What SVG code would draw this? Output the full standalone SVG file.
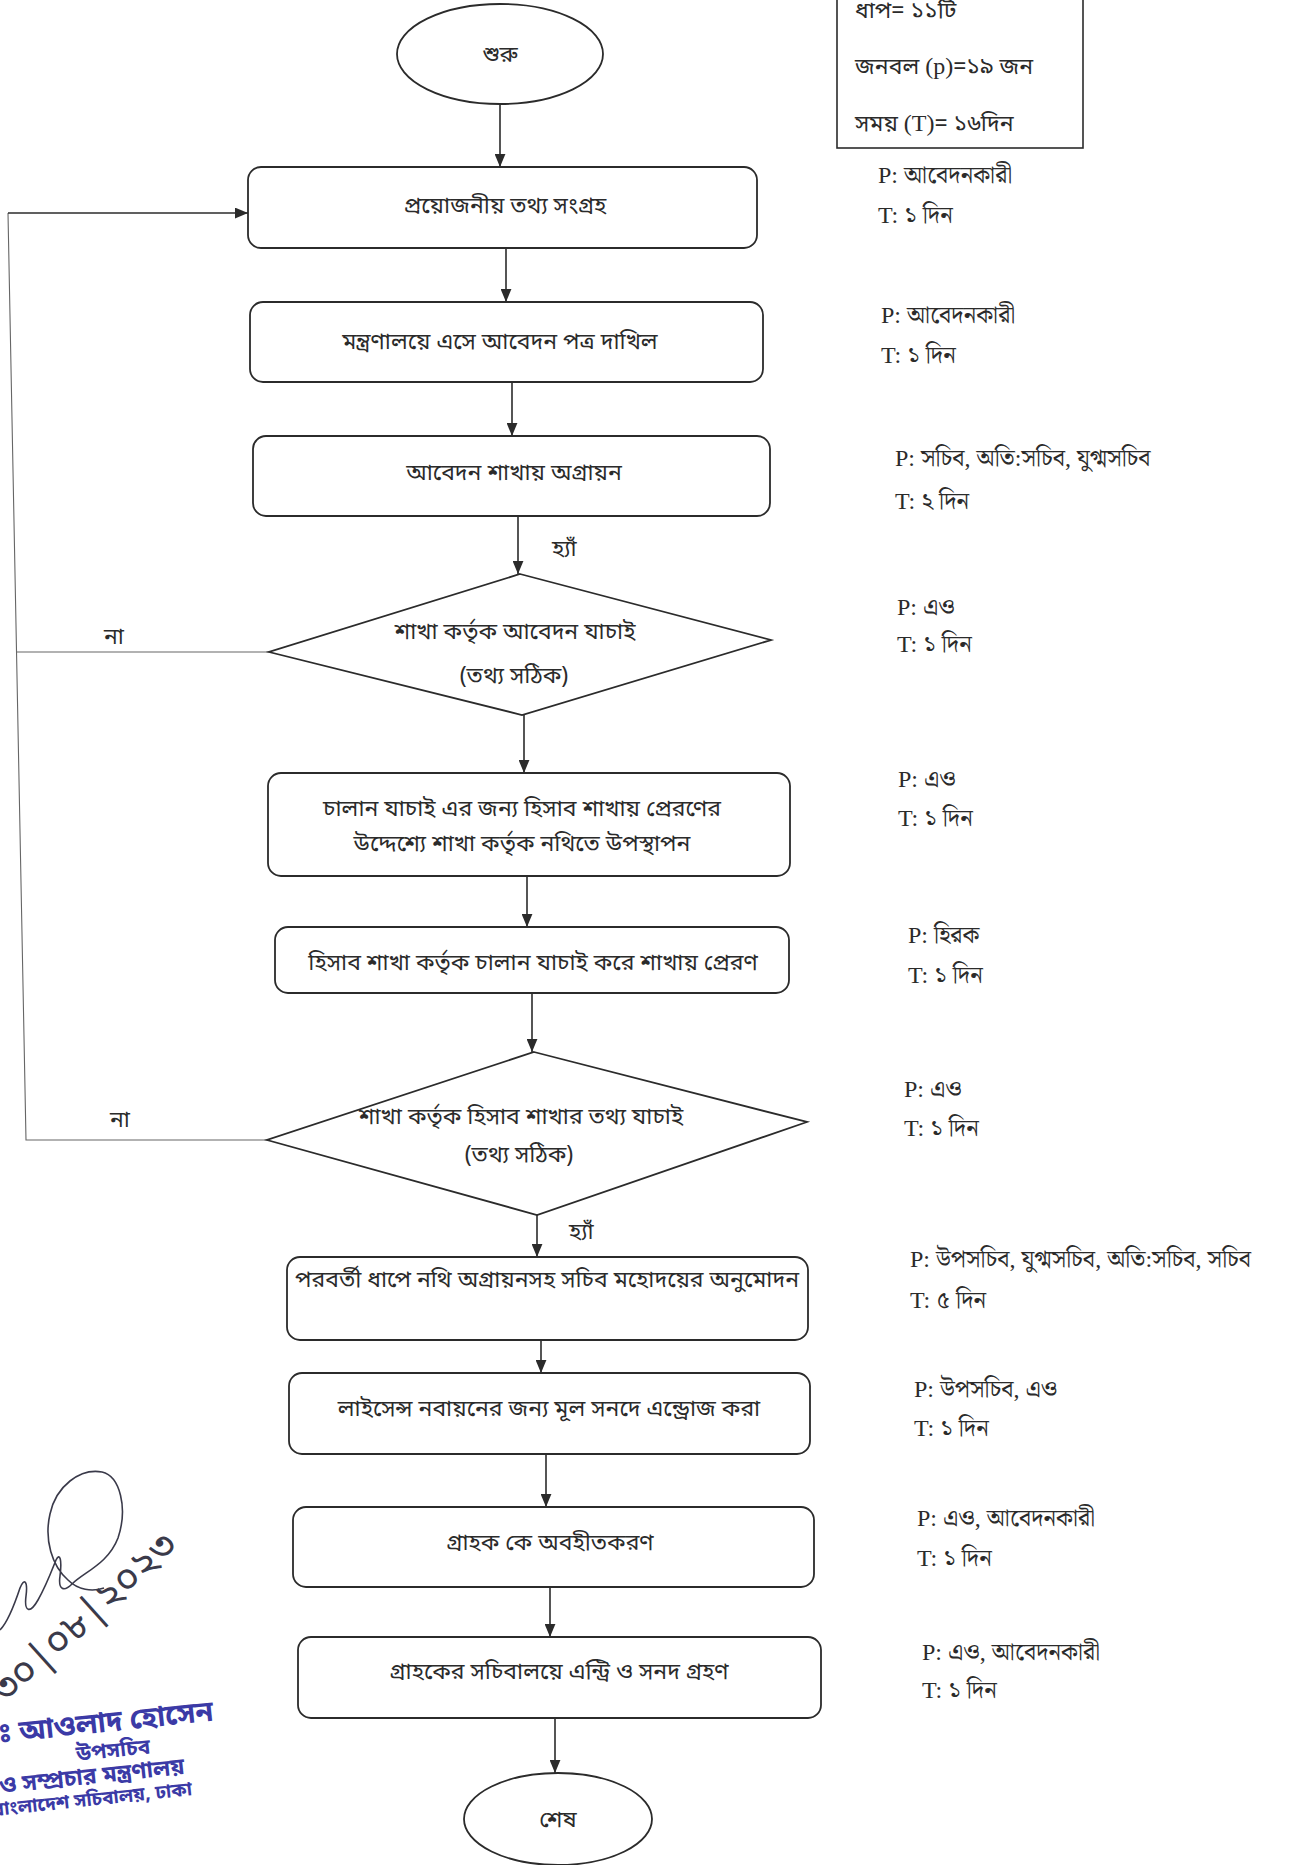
<svg xmlns="http://www.w3.org/2000/svg" width="1303" height="1865" viewBox="0 0 1303 1865">
<defs>
<marker id="ah" viewBox="0 0 12 10" refX="12" refY="5" markerWidth="13" markerHeight="11" markerUnits="userSpaceOnUse" orient="auto">
<path d="M0,0 L12,5 L0,10 z" fill="#2b2b2b"/>
</marker>
<style>
.bx{fill:#fff;stroke:#2b2b2b;stroke-width:1.8}
.ln{fill:none;stroke:#2b2b2b;stroke-width:1.6}
.lt{fill:none;stroke:#666;stroke-width:1.1}
.t{font-family:"Noto Sans Bengali","Noto Serif Bengali","Lohit Bengali","FreeSerif","Liberation Serif",serif;font-size:23px;fill:#2b2b2b}
.c{text-anchor:middle}
.s{font-family:"Liberation Serif","Noto Serif Bengali","Noto Sans Bengali","FreeSerif",serif;font-size:24px;fill:#2b2b2b}
.st{font-family:"Noto Sans Bengali","Lohit Bengali","FreeSans","Liberation Sans",sans-serif;fill:#3b3aa6;font-weight:bold}
</style>
</defs>
<rect width="1303" height="1865" fill="#fff"/>

<g id="connectors">
<line class="ln" x1="500" y1="104" x2="500" y2="167" marker-end="url(#ah)"/>
<line class="ln" x1="506" y1="248" x2="506" y2="302" marker-end="url(#ah)"/>
<line class="ln" x1="512" y1="382" x2="512" y2="436" marker-end="url(#ah)"/>
<line class="ln" x1="518" y1="516" x2="518" y2="574" marker-end="url(#ah)"/>
<line class="ln" x1="524" y1="715" x2="524" y2="773" marker-end="url(#ah)"/>
<line class="ln" x1="527" y1="876" x2="527" y2="927" marker-end="url(#ah)"/>
<line class="ln" x1="532" y1="993" x2="532" y2="1052" marker-end="url(#ah)"/>
<line class="ln" x1="537" y1="1215" x2="537" y2="1257" marker-end="url(#ah)"/>
<line class="ln" x1="541" y1="1340" x2="541" y2="1373" marker-end="url(#ah)"/>
<line class="ln" x1="546" y1="1454" x2="546" y2="1507" marker-end="url(#ah)"/>
<line class="ln" x1="550" y1="1587" x2="550" y2="1637" marker-end="url(#ah)"/>
<line class="ln" x1="555" y1="1718" x2="555" y2="1773" marker-end="url(#ah)"/>
<polyline class="lt" points="267,1140 26,1140 8,213"/>
<line class="ln" x1="8" y1="213" x2="248" y2="213" marker-end="url(#ah)"/>
<line class="lt" x1="269" y1="652" x2="16" y2="652"/>
<text class="t" x="552" y="556">হ্যাঁ</text>
<text class="t" x="569" y="1239">হ্যাঁ</text>
<text class="t" x="104" y="644">না</text>
<text class="t" x="110" y="1127">না</text>
</g>

<g id="summary">
<rect x="837" y="-5" width="246" height="153" fill="none" stroke="#2b2b2b" stroke-width="1.6"/>
<text class="t" x="855" y="18">ধাপ= ১১টি</text>
<text class="t" x="855" y="74">জনবল <tspan class="s" font-size="28">(p)</tspan>=১৯ জন</text>
<text class="t" x="855" y="131">সময় <tspan class="s" font-size="27">(T)</tspan>= ১৬দিন</text>
</g>

<g id="start">
<ellipse class="bx" cx="500" cy="54" rx="103" ry="50"/>
<text class="t c" x="500" y="62">শুরু</text>
</g>
<g id="n1">
<rect class="bx" x="248" y="167" width="509" height="81" rx="13"/>
<text class="t c" x="505" y="213">প্রয়োজনীয় তথ্য সংগ্রহ</text>
</g>
<g id="n2">
<rect class="bx" x="250" y="302" width="513" height="80" rx="13"/>
<text class="t c" x="500" y="349">মন্ত্রণালয়ে এসে আবেদন পত্র দাখিল</text>
</g>
<g id="n3">
<rect class="bx" x="253" y="436" width="517" height="80" rx="13"/>
<text class="t c" x="514" y="480">আবেদন শাখায় অগ্রায়ন</text>
</g>
<g id="d1">
<polygon class="bx" points="520,574 771,640 522,715 269,652"/>
<text class="t c" x="515" y="639">শাখা কর্তৃক আবেদন যাচাই</text>
<text class="t c" x="514" y="683">(তথ্য সঠিক)</text>
</g>
<g id="n4">
<rect class="bx" x="268" y="773" width="522" height="103" rx="13"/>
<text class="t c" x="522" y="816">চালান যাচাই এর জন্য হিসাব শাখায় প্রেরণের</text>
<text class="t c" x="522" y="851">উদ্দেশ্যে শাখা কর্তৃক নথিতে উপস্থাপন</text>
</g>
<g id="n5">
<rect class="bx" x="275" y="927" width="514" height="66" rx="13"/>
<text class="t c" x="533" y="970">হিসাব শাখা কর্তৃক চালান যাচাই করে শাখায় প্রেরণ</text>
</g>
<g id="d2">
<polygon class="bx" points="534,1052 807,1122 537,1215 267,1140"/>
<text class="t c" x="521" y="1124">শাখা কর্তৃক হিসাব শাখার তথ্য যাচাই</text>
<text class="t c" x="519" y="1162">(তথ্য সঠিক)</text>
</g>
<g id="n6">
<rect class="bx" x="287" y="1257" width="521" height="83" rx="13"/>
<text class="t c" x="547" y="1287">পরবর্তী ধাপে নথি অগ্রায়নসহ সচিব মহোদয়ের অনুমোদন</text>
</g>
<g id="n7">
<rect class="bx" x="289" y="1373" width="521" height="81" rx="13"/>
<text class="t c" x="549" y="1416">লাইসেন্স নবায়নের জন্য মূল সনদে এন্ড্রোজ করা</text>
</g>
<g id="n8">
<rect class="bx" x="293" y="1507" width="521" height="80" rx="13"/>
<text class="t c" x="550" y="1550">গ্রাহক কে অবহীতকরণ</text>
</g>
<g id="n9">
<rect class="bx" x="298" y="1637" width="523" height="81" rx="13"/>
<text class="t c" x="559" y="1679">গ্রাহকের সচিবালয়ে  এন্ট্রি ও সনদ গ্রহণ</text>
</g>
<g id="end">
<ellipse class="bx" cx="558" cy="1819" rx="94" ry="46"/>
<text class="t c" x="558" y="1827">শেষ</text>
</g>

<g id="side-labels">
<text class="s" x="878" y="183">P: আবেদনকারী</text>
<text class="s" x="878" y="223">T: ১ দিন</text>
<text class="s" x="881" y="323">P: আবেদনকারী</text>
<text class="s" x="881" y="363">T: ১ দিন</text>
<text class="s" x="895" y="466">P: সচিব, অতি:সচিব, যুগ্মসচিব</text>
<text class="s" x="895" y="509">T: ২ দিন</text>
<text class="s" x="897" y="615">P: এও</text>
<text class="s" x="897" y="652">T: ১ দিন</text>
<text class="s" x="898" y="787">P: এও</text>
<text class="s" x="898" y="826">T: ১ দিন</text>
<text class="s" x="908" y="943">P: হিরক</text>
<text class="s" x="908" y="983">T: ১ দিন</text>
<text class="s" x="904" y="1097">P: এও</text>
<text class="s" x="904" y="1136">T: ১ দিন</text>
<text class="s" x="910" y="1267">P: উপসচিব, যুগ্মসচিব, অতি:সচিব, সচিব</text>
<text class="s" x="910" y="1308">T: ৫ দিন</text>
<text class="s" x="914" y="1397">P: উপসচিব, এও</text>
<text class="s" x="914" y="1436">T: ১ দিন</text>
<text class="s" x="917" y="1526">P: এও, আবেদনকারী</text>
<text class="s" x="917" y="1566">T: ১ দিন</text>
<text class="s" x="922" y="1660">P: এও, আবেদনকারী</text>
<text class="s" x="922" y="1698">T: ১ দিন</text>
</g>

<g id="signature">
<path d="M0,1630 C8,1622 14,1606 20,1588 C24,1578 28,1580 26,1596 C24,1612 30,1614 38,1600 C46,1586 52,1570 56,1560 C60,1552 62,1560 60,1576 C58,1590 64,1592 72,1584 C84,1572 108,1564 118,1538 C128,1508 120,1476 102,1472 C80,1468 56,1486 50,1514 C44,1540 52,1566 68,1580 C78,1590 92,1592 104,1588" fill="none" stroke="#3a3a4a" stroke-width="1.6"/>
<text transform="translate(6,1705) rotate(-42)" font-family="'Noto Sans Bengali','Lohit Bengali','FreeSans',sans-serif" font-size="40" fill="#3a3a4a">৩০|০৮|২০২৩</text>
<g transform="rotate(-6 115 1740)">
<text class="st" x="-38" y="1731" font-size="29">মোঃ আওলাদ হোসেন</text>
<text class="st" x="112" y="1757" font-size="21" text-anchor="middle">উপসচিব</text>
<text class="st" x="-50" y="1781" font-size="23">তথ্য ও সম্প্রচার মন্ত্রণালয়</text>
<text class="st" x="-14" y="1803" font-size="19">বাংলাদেশ সচিবালয়, ঢাকা</text>
</g>
</g>
</svg>
